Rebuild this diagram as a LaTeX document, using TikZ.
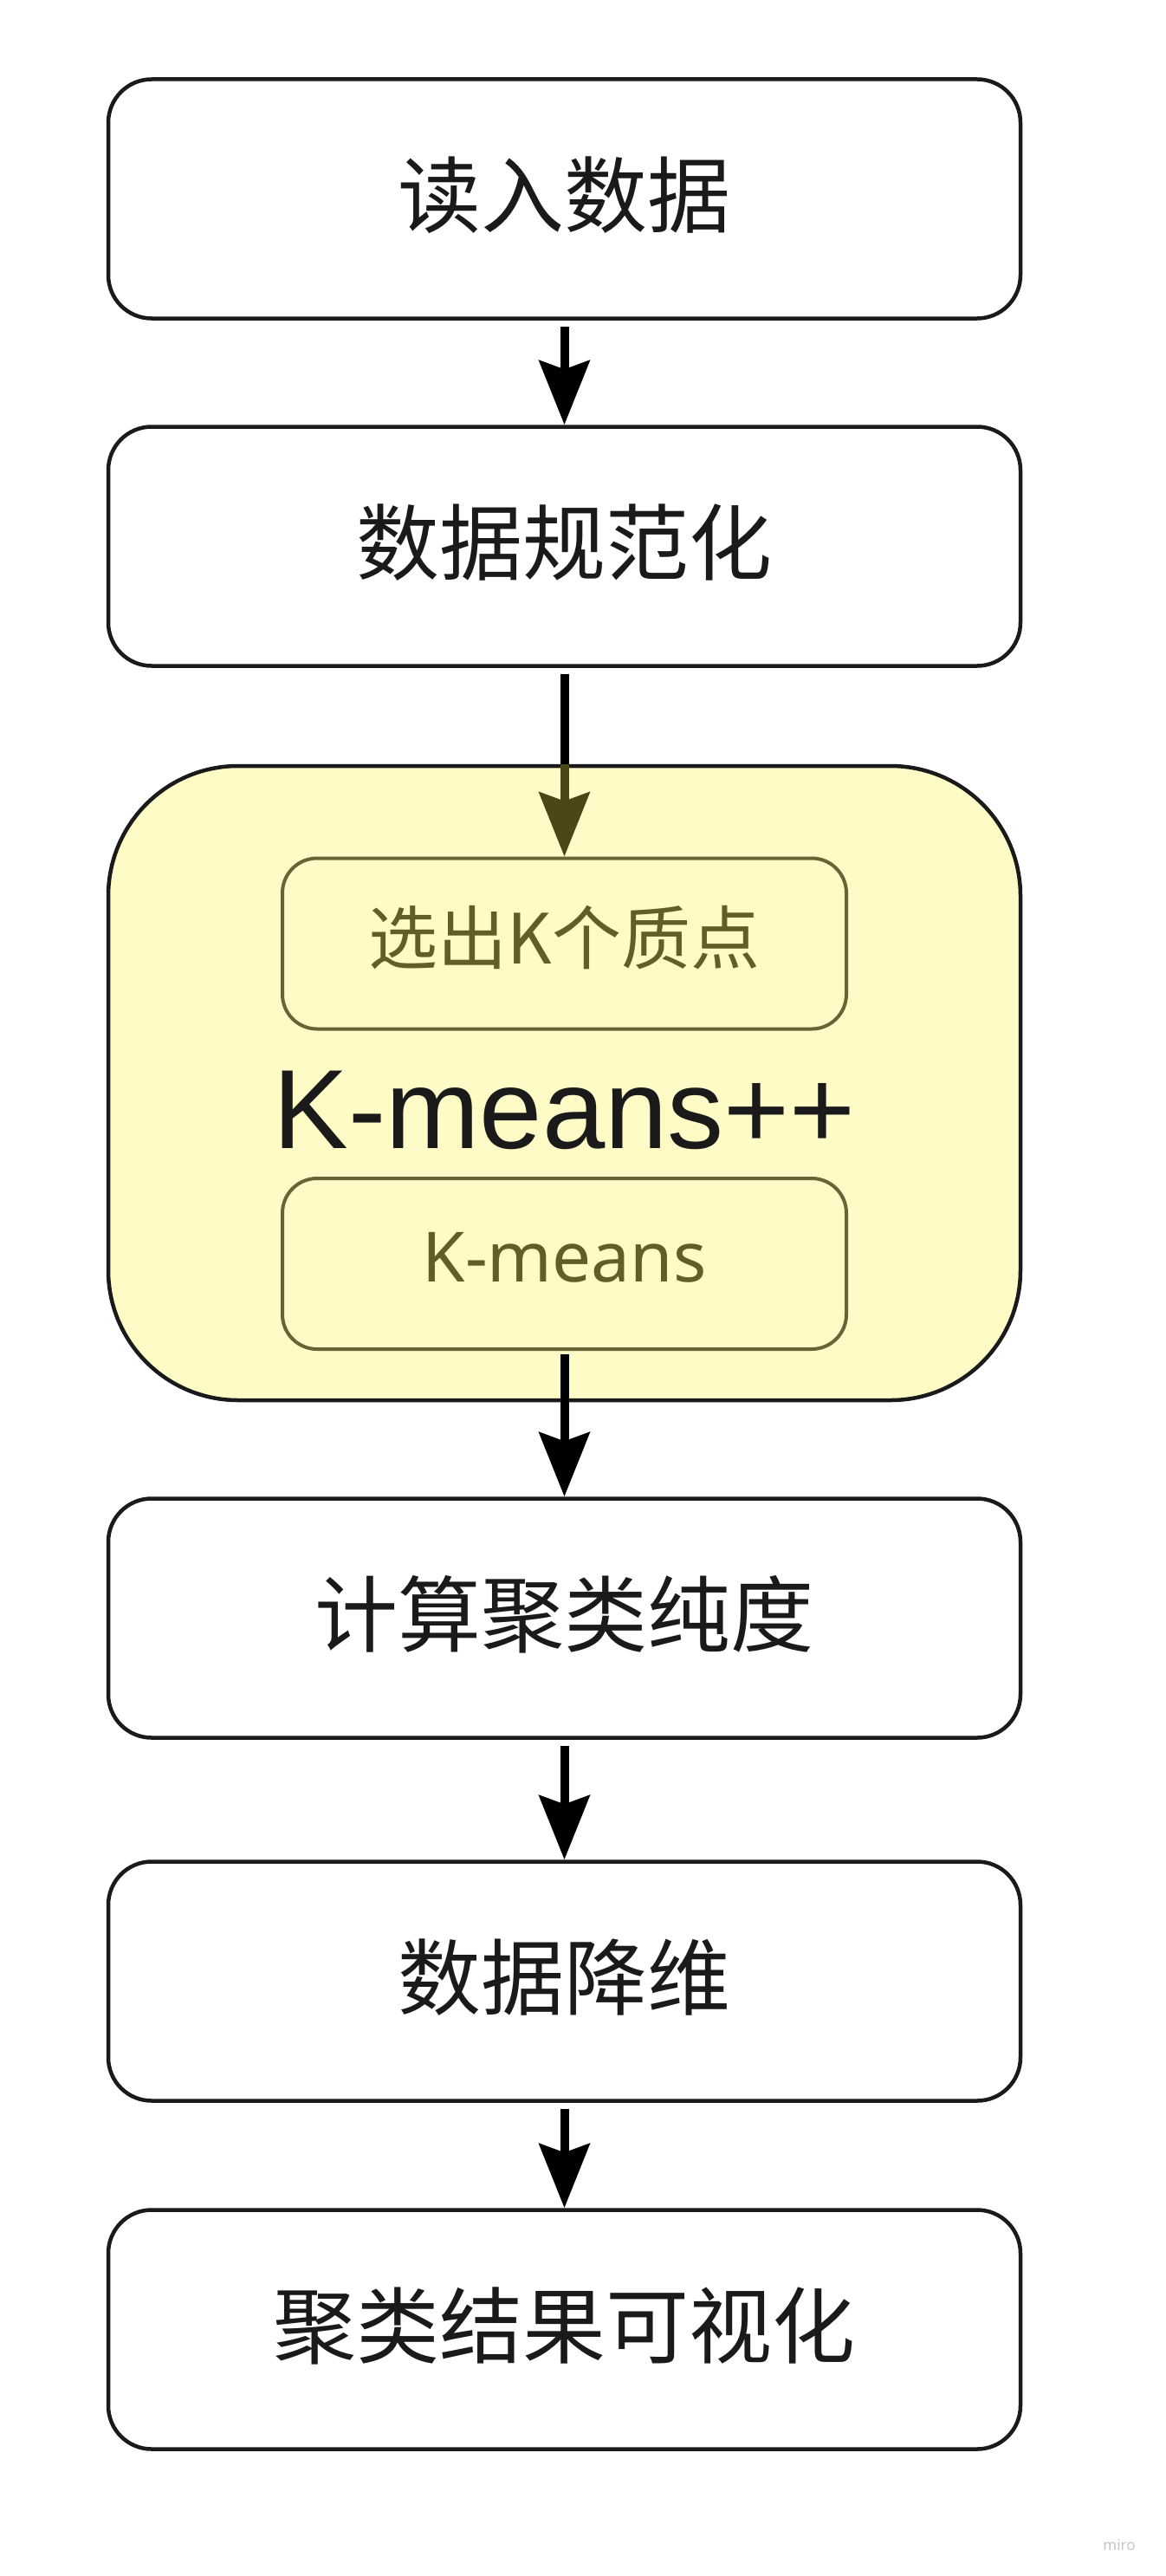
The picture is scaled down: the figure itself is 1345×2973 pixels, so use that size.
\documentclass[tikz,border=0pt]{standalone}
\usepackage{fontspec}
\newfontfamily\cjk{Noto Sans CJK SC}
\newfontfamily\arialfont{Liberation Sans}
\newfontfamily\notofont{Noto Sans}
\usetikzlibrary{arrows.meta}
\definecolor{ink}{HTML}{1A1A1A}
\definecolor{paleyellow}{HTML}{FFFBC7}
\definecolor{olivedark}{HTML}{4B4716}
\definecolor{olivetext}{HTML}{625E2A}
\definecolor{oliveline}{HTML}{6A6434}
\definecolor{mirogray}{HTML}{C5C5CE}
\begin{document}
\begin{tikzpicture}[x=1pt,y=-1pt,
  mainbox/.style={draw=ink, line width=4.5pt, fill=white, rounded corners=50pt,
    minimum width=1053pt, minimum height=276pt, inner sep=0pt},
  boxtext/.style={font=\cjk\fontsize{96}{110}\selectfont, text=ink, inner sep=0pt},
  bigbox/.style={draw=ink, line width=4.5pt, fill=paleyellow, rounded corners=150pt,
    minimum width=1053pt, minimum height=732pt, inner sep=0pt},
  innerbox/.style={draw=oliveline, line width=4pt, fill=paleyellow, rounded corners=40pt,
    minimum width=651pt, minimum height=197pt, inner sep=0pt},
  arr/.style={line width=10pt, draw=black, -{Stealth[length=74pt,width=58pt,inset=10pt]}},
  flowline/.style={line width=10pt, draw=black}
]
\useasboundingbox[fill=white] (0,0) rectangle (1345,2973);

\node[mainbox] (b1) at (651.5,229.5) {};
\node[boxtext] (t1a) at (651.5,225) {读入数据};
\node[mainbox] (b2) at (651.5,630.5) {};
\node[boxtext] (t2a) at (651.5,626) {数据规范化};
\node[bigbox] (km) at (651.5,1250) {};
\node[innerbox] (i1) at (651.5,1089) {};
\node[text=olivetext, font=\cjk\fontsize{80}{90}\selectfont, inner sep=0pt] (t1) at (651.5,1082) {选出K个质点};
\node[anchor=base, text=ink, font=\arialfont\fontsize{130}{140}\selectfont, inner sep=0pt] (kmt) at (651.5,1325) {K-means++};
\node[innerbox] (i2) at (651.5,1458.5) {};
\node[anchor=base, text=olivetext, font=\notofont\fontsize{80}{90}\selectfont, inner sep=0pt] (t2) at (651.5,1479) {K-means};
\node[mainbox] (b3) at (651.5,1867.5) {};
\node[boxtext] (t3a) at (651.5,1863) {计算聚类纯度};
\node[mainbox] (b4) at (651.5,2286.5) {};
\node[boxtext] (t4a) at (651.5,2282) {数据降维};
\node[mainbox] (b5) at (651.5,2688.5) {};
\node[boxtext] (t5a) at (651.5,2684) {聚类结果可视化};

\node[text=mirogray, font=\notofont\fontsize{17}{17}\selectfont, inner sep=0pt] (wm) at (1292,2937) {miro};

\draw[arr, shorten <=7pt] (b1.south) -- (b2.north);
\draw[flowline, shorten <=7pt] (b2.south) -- (km.north);
\draw[arr, draw=olivedark, fill=olivedark] (km.north) -- (i1.north);
\draw[arr, shorten <=4pt] (i2.south) -- (b3.north);
\draw[arr, shorten <=7pt] (b3.south) -- (b4.north);
\draw[arr, shorten <=7pt] (b4.south) -- (b5.north);
\end{tikzpicture}
\end{document}
